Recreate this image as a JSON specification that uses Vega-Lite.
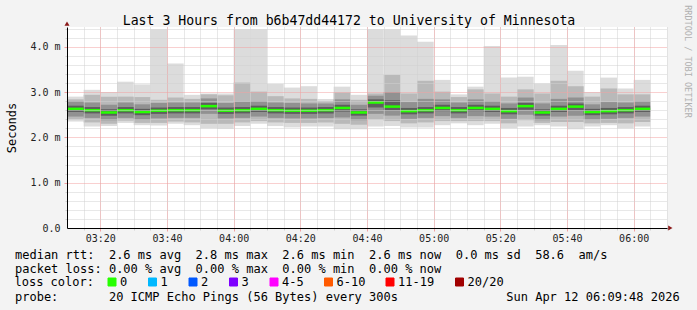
{
"$schema":"https://vega.github.io/schema/vega-lite/v6.json",
"width":600,"height":201,
"autosize":"none",
"padding":{"left":67,"top":27,"right":30,"bottom":82},
"background":"#f3f3f3",
"config":{"view":{"fill":"white","stroke":null},"font":"DejaVu Sans Mono"},
"data":{"values":[
{"t":"2026-04-12T03:10","t2":"2026-04-12T03:15","mn":2.35,"l1":2.40,"l2":2.46,"l3":2.56,"md":2.63,"h3":2.70,"h2":2.80,"h1":2.84,"mx":2.90,"loss":"0"},
{"t":"2026-04-12T03:15","t2":"2026-04-12T03:20","mn":2.24,"l1":2.33,"l2":2.43,"l3":2.53,"md":2.60,"h3":2.67,"h2":2.77,"h1":2.94,"mx":3.05,"loss":"0"},
{"t":"2026-04-12T03:20","t2":"2026-04-12T03:25","mn":2.25,"l1":2.30,"l2":2.38,"l3":2.48,"md":2.55,"h3":2.62,"h2":2.72,"h1":2.90,"mx":3.00,"loss":"0"},
{"t":"2026-04-12T03:25","t2":"2026-04-12T03:30","mn":2.32,"l1":2.37,"l2":2.43,"l3":2.53,"md":2.60,"h3":2.67,"h2":2.77,"h1":2.90,"mx":3.23,"loss":"0"},
{"t":"2026-04-12T03:30","t2":"2026-04-12T03:35","mn":2.27,"l1":2.32,"l2":2.39,"l3":2.49,"md":2.56,"h3":2.63,"h2":2.73,"h1":2.89,"mx":3.17,"loss":"0"},
{"t":"2026-04-12T03:35","t2":"2026-04-12T03:40","mn":2.26,"l1":2.32,"l2":2.42,"l3":2.52,"md":2.59,"h3":2.66,"h2":2.76,"h1":2.83,"mx":4.39,"loss":"0"},
{"t":"2026-04-12T03:40","t2":"2026-04-12T03:45","mn":2.30,"l1":2.35,"l2":2.43,"l3":2.53,"md":2.60,"h3":2.67,"h2":2.77,"h1":2.88,"mx":3.63,"loss":"0"},
{"t":"2026-04-12T03:45","t2":"2026-04-12T03:50","mn":2.27,"l1":2.33,"l2":2.43,"l3":2.53,"md":2.60,"h3":2.67,"h2":2.77,"h1":2.85,"mx":2.94,"loss":"0"},
{"t":"2026-04-12T03:50","t2":"2026-04-12T03:55","mn":2.20,"l1":2.30,"l2":2.52,"l3":2.62,"md":2.69,"h3":2.76,"h2":2.86,"h1":2.95,"mx":2.97,"loss":"0"},
{"t":"2026-04-12T03:55","t2":"2026-04-12T04:00","mn":2.19,"l1":2.30,"l2":2.42,"l3":2.52,"md":2.59,"h3":2.66,"h2":2.76,"h1":2.93,"mx":2.97,"loss":"0"},
{"t":"2026-04-12T04:00","t2":"2026-04-12T04:05","mn":2.25,"l1":2.33,"l2":2.43,"l3":2.53,"md":2.60,"h3":2.67,"h2":2.79,"h1":3.21,"mx":4.39,"loss":"0"},
{"t":"2026-04-12T04:05","t2":"2026-04-12T04:10","mn":2.30,"l1":2.36,"l2":2.46,"l3":2.56,"md":2.63,"h3":2.70,"h2":2.80,"h1":3.01,"mx":4.39,"loss":"0"},
{"t":"2026-04-12T04:10","t2":"2026-04-12T04:15","mn":2.25,"l1":2.33,"l2":2.43,"l3":2.53,"md":2.60,"h3":2.67,"h2":2.77,"h1":2.91,"mx":3.18,"loss":"0"},
{"t":"2026-04-12T04:15","t2":"2026-04-12T04:20","mn":2.22,"l1":2.32,"l2":2.42,"l3":2.52,"md":2.59,"h3":2.66,"h2":2.76,"h1":2.86,"mx":3.10,"loss":"0"},
{"t":"2026-04-12T04:20","t2":"2026-04-12T04:25","mn":2.24,"l1":2.32,"l2":2.42,"l3":2.52,"md":2.59,"h3":2.66,"h2":2.75,"h1":2.85,"mx":3.13,"loss":"0"},
{"t":"2026-04-12T04:25","t2":"2026-04-12T04:30","mn":2.24,"l1":2.33,"l2":2.43,"l3":2.53,"md":2.60,"h3":2.67,"h2":2.75,"h1":2.80,"mx":2.85,"loss":"0"},
{"t":"2026-04-12T04:30","t2":"2026-04-12T04:35","mn":2.18,"l1":2.30,"l2":2.44,"l3":2.57,"md":2.65,"h3":2.72,"h2":2.84,"h1":2.99,"mx":3.12,"loss":"0"},
{"t":"2026-04-12T04:35","t2":"2026-04-12T04:40","mn":2.18,"l1":2.28,"l2":2.38,"l3":2.48,"md":2.55,"h3":2.62,"h2":2.72,"h1":2.83,"mx":2.94,"loss":"0"},
{"t":"2026-04-12T04:40","t2":"2026-04-12T04:45","mn":2.24,"l1":2.40,"l2":2.52,"l3":2.66,"md":2.77,"h3":2.84,"h2":2.92,"h1":2.97,"mx":4.39,"loss":"0"},
{"t":"2026-04-12T04:45","t2":"2026-04-12T04:50","mn":2.25,"l1":2.36,"l2":2.48,"l3":2.60,"md":2.68,"h3":2.82,"h2":3.00,"h1":3.38,"mx":4.39,"loss":"0"},
{"t":"2026-04-12T04:50","t2":"2026-04-12T04:55","mn":2.22,"l1":2.31,"l2":2.41,"l3":2.51,"md":2.58,"h3":2.65,"h2":2.78,"h1":2.97,"mx":4.25,"loss":"0"},
{"t":"2026-04-12T04:55","t2":"2026-04-12T05:00","mn":2.22,"l1":2.33,"l2":2.43,"l3":2.53,"md":2.60,"h3":2.67,"h2":2.85,"h1":3.25,"mx":4.11,"loss":"0"},
{"t":"2026-04-12T05:00","t2":"2026-04-12T05:05","mn":2.27,"l1":2.36,"l2":2.47,"l3":2.58,"md":2.65,"h3":2.72,"h2":2.84,"h1":3.01,"mx":3.27,"loss":"0"},
{"t":"2026-04-12T05:05","t2":"2026-04-12T05:10","mn":2.31,"l1":2.36,"l2":2.43,"l3":2.53,"md":2.60,"h3":2.67,"h2":2.77,"h1":2.89,"mx":2.95,"loss":"0"},
{"t":"2026-04-12T05:10","t2":"2026-04-12T05:15","mn":2.27,"l1":2.36,"l2":2.47,"l3":2.58,"md":2.65,"h3":2.72,"h2":2.84,"h1":3.06,"mx":3.12,"loss":"0"},
{"t":"2026-04-12T05:15","t2":"2026-04-12T05:20","mn":2.30,"l1":2.36,"l2":2.46,"l3":2.56,"md":2.63,"h3":2.70,"h2":2.80,"h1":2.97,"mx":4.02,"loss":"0"},
{"t":"2026-04-12T05:20","t2":"2026-04-12T05:25","mn":2.20,"l1":2.31,"l2":2.41,"l3":2.51,"md":2.58,"h3":2.65,"h2":2.75,"h1":2.90,"mx":3.32,"loss":"0"},
{"t":"2026-04-12T05:25","t2":"2026-04-12T05:30","mn":2.24,"l1":2.38,"l2":2.50,"l3":2.61,"md":2.69,"h3":2.76,"h2":2.88,"h1":3.06,"mx":3.34,"loss":"0"},
{"t":"2026-04-12T05:30","t2":"2026-04-12T05:35","mn":2.27,"l1":2.32,"l2":2.38,"l3":2.48,"md":2.55,"h3":2.62,"h2":2.75,"h1":2.97,"mx":3.19,"loss":"0"},
{"t":"2026-04-12T05:35","t2":"2026-04-12T05:40","mn":2.24,"l1":2.34,"l2":2.46,"l3":2.56,"md":2.63,"h3":2.70,"h2":2.85,"h1":3.25,"mx":4.04,"loss":"0"},
{"t":"2026-04-12T05:40","t2":"2026-04-12T05:45","mn":2.18,"l1":2.34,"l2":2.48,"l3":2.60,"md":2.68,"h3":2.75,"h2":2.88,"h1":3.13,"mx":3.47,"loss":"0"},
{"t":"2026-04-12T05:45","t2":"2026-04-12T05:50","mn":2.24,"l1":2.31,"l2":2.39,"l3":2.49,"md":2.56,"h3":2.63,"h2":2.73,"h1":2.90,"mx":3.00,"loss":"0"},
{"t":"2026-04-12T05:50","t2":"2026-04-12T05:55","mn":2.27,"l1":2.32,"l2":2.41,"l3":2.51,"md":2.58,"h3":2.65,"h2":2.78,"h1":3.08,"mx":3.32,"loss":"0"},
{"t":"2026-04-12T05:55","t2":"2026-04-12T06:00","mn":2.20,"l1":2.31,"l2":2.43,"l3":2.53,"md":2.60,"h3":2.67,"h2":2.77,"h1":2.95,"mx":3.08,"loss":"0"},
{"t":"2026-04-12T06:00","t2":"2026-04-12T06:05","mn":2.24,"l1":2.34,"l2":2.46,"l3":2.56,"md":2.63,"h3":2.70,"h2":2.80,"h1":2.95,"mx":3.27,"loss":"0"}
]},
"resolve":{"axis":{"x":"independent","y":"independent"}},
"layer":[
{"mark":{"type":"bar"},
 "encoding":{
  "x":{"field":"t","type":"temporal","axis":null,"scale":{"domain":[{"year":2026,"month":4,"date":12,"hours":3,"minutes":10},{"year":2026,"month":4,"date":12,"hours":6,"minutes":10}],"nice":false}},
  "x2":{"field":"t2"},
  "y":{"field":"md","type":"quantitative","axis":null,"scale":{"domain":[0,4.437],"nice":false,"zero":false}},
  "y2":{"field":"md"},
  "color":{"field":"loss","type":"nominal",
   "scale":{"domain":["0","1","2","3","4-5","6-10","11-19","20/20"],"range":["#26ff00","#00b8ff","#0059ff","#7e00ff","#ff00ff","#ff5a00","#ff0000","#a10000"]},
   "legend":{"orient":"none","legendX":-52.5,"legendY":249,"direction":"horizontal","title":"loss color:","titleOrient":"left","titleFont":"DejaVu Sans Mono","titleFontSize":12,"titleFontWeight":"normal","titleColor":"black","titlePadding":11.5,"labelFont":"DejaVu Sans Mono","labelFontSize":12,"labelColor":"black","symbolType":"square","symbolSize":64,"symbolStrokeWidth":1,"symbolStrokeColor":"black","symbolOpacity":1,"labelOffset":2,"columnPadding":18.5,"padding":0}}}},
{"mark":{"type":"bar","color":"#dcdcdc"},
 "encoding":{
  "x":{"field":"t","type":"temporal","scale":{"domain":[{"year":2026,"month":4,"date":12,"hours":3,"minutes":10},{"year":2026,"month":4,"date":12,"hours":6,"minutes":10}],"nice":false},
   "axis":{"orient":"bottom","grid":true,"gridColor":"#d0d0d0","gridDash":[1,1],"labels":false,"ticks":true,"tickSize":2,"tickColor":"#d0d0d0","domain":false,"zindex":1,
    "title":"probe:\u00a0\u00a0\u00a0\u00a0\u00a0\u00a0\u00a020 ICMP Echo Pings (56 Bytes) every 300s\u00a0\u00a0\u00a0\u00a0\u00a0\u00a0\u00a0\u00a0\u00a0\u00a0\u00a0\u00a0\u00a0\u00a0\u00a0Sun Apr 12 06:09:48 2026",
    "titleFont":"DejaVu Sans Mono","titleFontSize":12,"titleFontWeight":"normal","titleColor":"black","titleAnchor":"start","titleAlign":"left","titleBaseline":"alphabetic","titleX":-52.5,"titleY":72.5,
    "values":[{"year":2026,"month":4,"date":12,"hours":3,"minutes":15},{"year":2026,"month":4,"date":12,"hours":3,"minutes":20},{"year":2026,"month":4,"date":12,"hours":3,"minutes":25},{"year":2026,"month":4,"date":12,"hours":3,"minutes":30},{"year":2026,"month":4,"date":12,"hours":3,"minutes":35},{"year":2026,"month":4,"date":12,"hours":3,"minutes":40},{"year":2026,"month":4,"date":12,"hours":3,"minutes":45},{"year":2026,"month":4,"date":12,"hours":3,"minutes":50},{"year":2026,"month":4,"date":12,"hours":3,"minutes":55},{"year":2026,"month":4,"date":12,"hours":4,"minutes":0},{"year":2026,"month":4,"date":12,"hours":4,"minutes":5},{"year":2026,"month":4,"date":12,"hours":4,"minutes":10},{"year":2026,"month":4,"date":12,"hours":4,"minutes":15},{"year":2026,"month":4,"date":12,"hours":4,"minutes":20},{"year":2026,"month":4,"date":12,"hours":4,"minutes":25},{"year":2026,"month":4,"date":12,"hours":4,"minutes":30},{"year":2026,"month":4,"date":12,"hours":4,"minutes":35},{"year":2026,"month":4,"date":12,"hours":4,"minutes":40},{"year":2026,"month":4,"date":12,"hours":4,"minutes":45},{"year":2026,"month":4,"date":12,"hours":4,"minutes":50},{"year":2026,"month":4,"date":12,"hours":4,"minutes":55},{"year":2026,"month":4,"date":12,"hours":5,"minutes":0},{"year":2026,"month":4,"date":12,"hours":5,"minutes":5},{"year":2026,"month":4,"date":12,"hours":5,"minutes":10},{"year":2026,"month":4,"date":12,"hours":5,"minutes":15},{"year":2026,"month":4,"date":12,"hours":5,"minutes":20},{"year":2026,"month":4,"date":12,"hours":5,"minutes":25},{"year":2026,"month":4,"date":12,"hours":5,"minutes":30},{"year":2026,"month":4,"date":12,"hours":5,"minutes":35},{"year":2026,"month":4,"date":12,"hours":5,"minutes":40},{"year":2026,"month":4,"date":12,"hours":5,"minutes":45},{"year":2026,"month":4,"date":12,"hours":5,"minutes":50},{"year":2026,"month":4,"date":12,"hours":5,"minutes":55},{"year":2026,"month":4,"date":12,"hours":6,"minutes":0},{"year":2026,"month":4,"date":12,"hours":6,"minutes":5},{"year":2026,"month":4,"date":12,"hours":6,"minutes":10}]}},
  "x2":{"field":"t2"},
  "y":{"field":"mn","type":"quantitative","scale":{"domain":[0,4.437],"nice":false,"zero":false},
   "axis":{"orient":"left","grid":true,"gridColor":"#d0d0d0","gridDash":[1,1],"labels":false,"ticks":true,"tickSize":2,"tickColor":"#d0d0d0","domain":false,"title":null,"values":[0.2,0.4,0.6,0.8,1.2,1.4,1.6,1.8,2.2,2.4,2.6,2.8,3.2,3.4,3.6,3.8,4.2,4.4],"zindex":1}},
  "y2":{"field":"mx"}}},
{"mark":{"type":"bar","color":"#b9b9b9"},
 "encoding":{
  "x":{"field":"t","type":"temporal","scale":{"domain":[{"year":2026,"month":4,"date":12,"hours":3,"minutes":10},{"year":2026,"month":4,"date":12,"hours":6,"minutes":10}],"nice":false},
   "axis":{"orient":"bottom","grid":true,"gridColor":"#f2a0a0","gridDash":[1,1],"labels":false,"ticks":true,"tickSize":3,"tickColor":"#f2a0a0","domain":false,"title":null,"zindex":1,
    "values":[{"year":2026,"month":4,"date":12,"hours":3,"minutes":20},{"year":2026,"month":4,"date":12,"hours":3,"minutes":40},{"year":2026,"month":4,"date":12,"hours":4,"minutes":0},{"year":2026,"month":4,"date":12,"hours":4,"minutes":20},{"year":2026,"month":4,"date":12,"hours":4,"minutes":40},{"year":2026,"month":4,"date":12,"hours":5,"minutes":0},{"year":2026,"month":4,"date":12,"hours":5,"minutes":20},{"year":2026,"month":4,"date":12,"hours":5,"minutes":40},{"year":2026,"month":4,"date":12,"hours":6,"minutes":0}]}},
  "x2":{"field":"t2"},
  "y":{"field":"l1","type":"quantitative","scale":{"domain":[0,4.437],"nice":false,"zero":false},
   "axis":{"orient":"left","grid":true,"gridColor":"#f2a0a0","gridDash":[1,1],"labels":false,"ticks":true,"tickSize":3,"tickColor":"#f2a0a0","domain":false,"title":null,"values":[1,2,3,4],"zindex":1}},
  "y2":{"field":"h1"}}},
{"mark":{"type":"bar","color":"#919191"},
 "encoding":{
  "x":{"field":"t","type":"temporal","scale":{"domain":[{"year":2026,"month":4,"date":12,"hours":3,"minutes":10},{"year":2026,"month":4,"date":12,"hours":6,"minutes":10}],"nice":false},
   "axis":{"orient":"bottom","grid":false,"domain":true,"domainColor":"black","domainWidth":1,"ticks":false,"tickSize":0,"labels":true,"format":"%H:%M","labelFont":"DejaVu Sans Mono","labelFontSize":10,"labelColor":"#222222","labelPadding":5,"labelOverlap":false,"labelFlush":false,
    "values":[{"year":2026,"month":4,"date":12,"hours":3,"minutes":20},{"year":2026,"month":4,"date":12,"hours":3,"minutes":40},{"year":2026,"month":4,"date":12,"hours":4,"minutes":0},{"year":2026,"month":4,"date":12,"hours":4,"minutes":20},{"year":2026,"month":4,"date":12,"hours":4,"minutes":40},{"year":2026,"month":4,"date":12,"hours":5,"minutes":0},{"year":2026,"month":4,"date":12,"hours":5,"minutes":20},{"year":2026,"month":4,"date":12,"hours":5,"minutes":40},{"year":2026,"month":4,"date":12,"hours":6,"minutes":0}],
    "title":["median rtt:\u00a0\u00a02.6 ms avg\u00a0\u00a02.8 ms max\u00a0\u00a02.6 ms min\u00a0\u00a02.6 ms now\u00a0\u00a00.0 ms sd\u00a0\u00a058.6\u00a0\u00a0am/s","packet loss: 0.00 % avg\u00a0\u00a00.00 % max\u00a0\u00a00.00 % min\u00a0\u00a00.00 % now"],
    "titleFont":"DejaVu Sans Mono","titleFontSize":12,"titleFontWeight":"normal","titleColor":"black","titleAnchor":"start","titleAlign":"left","titleBaseline":"alphabetic","titleX":-52.5,"titleY":30.5,"titleLineHeight":14,"zindex":1}},
  "x2":{"field":"t2"},
  "y":{"field":"l2","type":"quantitative","scale":{"domain":[0,4.437],"nice":false,"zero":false},
   "axis":{"orient":"left","grid":false,"domain":true,"domainColor":"black","domainWidth":1,"ticks":false,"tickSize":0,"labels":true,"values":[0,1,2,3,4],"labelExpr":"datum.value == 0 ? '0.0' : format(datum.value, '.1f') + ' m'","labelFont":"DejaVu Sans Mono","labelFontSize":10,"labelColor":"#222222","labelPadding":7,"labelOverlap":false,"labelFlush":false,
    "title":"Seconds","titleFont":"DejaVu Sans Mono","titleFontSize":12,"titleFontWeight":"normal","titleColor":"black","titleAngle":270,"titleAlign":"center","titleBaseline":"middle","titleX":-56,"titleY":100.5,"zindex":1}},
  "y2":{"field":"h2"}}},
{"mark":{"type":"bar","color":"#5e5e5e"},
 "encoding":{
  "x":{"field":"t","type":"temporal","scale":{"domain":[{"year":2026,"month":4,"date":12,"hours":3,"minutes":10},{"year":2026,"month":4,"date":12,"hours":6,"minutes":10}],"nice":false},
   "axis":{"orient":"top","grid":false,"domain":false,"ticks":false,"labels":false,"title":"Last 3 Hours from b6b47dd44172 to University of Minnesota","titleFont":"DejaVu Sans Mono","titleFontSize":13.2,"titleFontWeight":"normal","titleColor":"black","titleAlign":"center","titleBaseline":"alphabetic","titleX":281.5,"titleY":-3,"zindex":1}},
  "x2":{"field":"t2"},
  "y":{"field":"l3","type":"quantitative","scale":{"domain":[0,4.437],"nice":false,"zero":false},
   "axis":{"orient":"right","grid":false,"domain":false,"ticks":false,"labels":false,"title":"RRDTOOL / TOBI OETIKER","titleFont":"DejaVu Sans Mono","titleFontSize":8.5,"titleFontWeight":"normal","titleColor":"#b0b0b0","titleAngle":90,"titleAlign":"center","titleBaseline":"middle","titleX":20,"titleY":34,"zindex":1}},
  "y2":{"field":"h3"}}},
{"mark":{"type":"rule","strokeWidth":2.5},
 "encoding":{
  "x":{"field":"t","type":"temporal","axis":null,"scale":{"domain":[{"year":2026,"month":4,"date":12,"hours":3,"minutes":10},{"year":2026,"month":4,"date":12,"hours":6,"minutes":10}],"nice":false}},
  "x2":{"field":"t2"},
  "y":{"field":"md","type":"quantitative","axis":null,"scale":{"domain":[0,4.437],"nice":false,"zero":false}},
  "color":{"field":"loss","type":"nominal","legend":null}}},
{"data":{"values":[{"ax":"2026-04-12T06:11","ay":0,"s":"triangle-right"},{"ax":"2026-04-12T03:10","ay":4.51,"s":"triangle-up"}]},
 "mark":{"type":"point","filled":true,"opacity":1,"color":"#8b1a1a","size":25},
 "encoding":{
  "x":{"field":"ax","type":"temporal","axis":null,"scale":{"domain":[{"year":2026,"month":4,"date":12,"hours":3,"minutes":10},{"year":2026,"month":4,"date":12,"hours":6,"minutes":10}],"nice":false}},
  "y":{"field":"ay","type":"quantitative","axis":null,"scale":{"domain":[0,4.437],"nice":false,"zero":false}},
  "shape":{"field":"s","type":"nominal","scale":null,"legend":null}}}
]
}
